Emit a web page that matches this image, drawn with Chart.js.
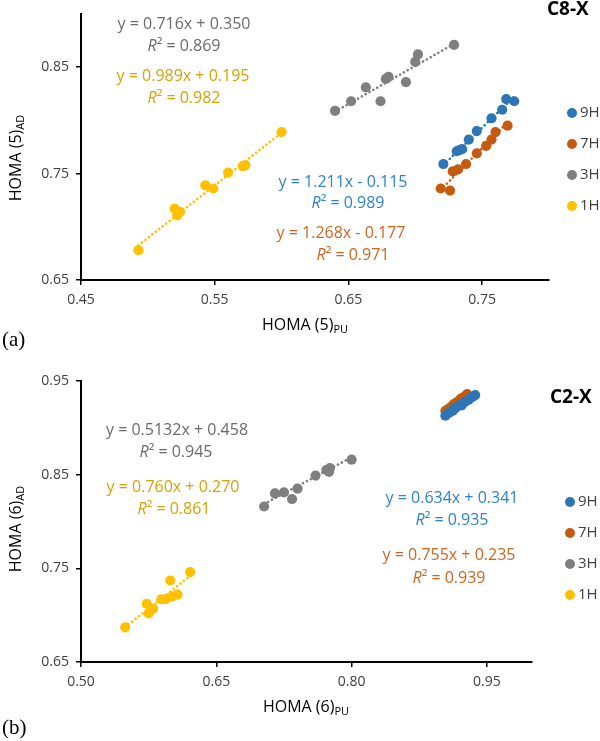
<!DOCTYPE html>
<html>
<head>
<meta charset="utf-8">
<script src="https://cdn.jsdelivr.net/npm/chart.js@4/dist/chart.umd.min.js"></script>
<style>
body{margin:0;background:#fff;}
canvas{display:block;}
</style>
</head>
<body>
<canvas id="chartA" width="600" height="350"></canvas>
<canvas id="chartB" width="600" height="391"></canvas>
<script>
var seriesNames = ['9H', '7H', '3H', '1H'];

// (a) C8-X
var a9H_x = [0.721, 0.731, 0.733, 0.735, 0.740, 0.746, 0.757, 0.765, 0.768, 0.774];
var a9H_y = [0.759, 0.771, 0.772, 0.773, 0.782, 0.790, 0.802, 0.810, 0.820, 0.818];
var a7H_x = [0.719, 0.726, 0.728, 0.732, 0.738, 0.746, 0.753, 0.757, 0.760, 0.769];
var a7H_y = [0.736, 0.734, 0.752, 0.754, 0.759, 0.769, 0.776, 0.782, 0.789, 0.795];
var a3H_x = [0.640, 0.652, 0.663, 0.674, 0.678, 0.680, 0.693, 0.700, 0.702, 0.729];
var a3H_y = [0.809, 0.818, 0.831, 0.818, 0.839, 0.841, 0.836, 0.855, 0.862, 0.871];
var a1H_x = [0.493, 0.520, 0.522, 0.524, 0.543, 0.549, 0.560, 0.571, 0.573, 0.600];
var a1H_y = [0.678, 0.717, 0.711, 0.714, 0.739, 0.736, 0.751, 0.757, 0.758, 0.789];
var aSlope = [1.211, 1.268, 0.716, 0.989];
var aIntercept = [-0.115, -0.177, 0.350, 0.195];
var aEq = ['y = 1.211x - 0.115', 'y = 1.268x - 0.177', 'y = 0.716x + 0.350', 'y = 0.989x + 0.195'];
var aR2 = ['0.989', '0.971', '0.869', '0.982'];
var aXTicks = [0.45, 0.55, 0.65, 0.75];
var aYTicks = [0.65, 0.75, 0.85];

// (b) C2-X
var b9H_x = [0.904, 0.908, 0.912, 0.915, 0.919, 0.922, 0.926, 0.930, 0.934, 0.937];
var b9H_y = [0.913, 0.916, 0.918, 0.921, 0.924, 0.924, 0.928, 0.930, 0.933, 0.935];
var b7H_x = [0.904, 0.907, 0.910, 0.913, 0.916, 0.918, 0.921, 0.923, 0.926, 0.928];
var b7H_y = [0.918, 0.920, 0.922, 0.925, 0.927, 0.928, 0.931, 0.932, 0.934, 0.936];
var b3H_x = [0.703, 0.715, 0.725, 0.734, 0.740, 0.760, 0.772, 0.775, 0.776, 0.800];
var b3H_y = [0.816, 0.830, 0.831, 0.824, 0.835, 0.849, 0.855, 0.853, 0.857, 0.866];
var b1H_x = [0.549, 0.573, 0.575, 0.580, 0.589, 0.594, 0.599, 0.601, 0.607, 0.621];
var b1H_y = [0.687, 0.712, 0.702, 0.707, 0.717, 0.717, 0.737, 0.720, 0.722, 0.746];
var bSlope = [0.634, 0.755, 0.5132, 0.760];
var bIntercept = [0.341, 0.235, 0.458, 0.270];
var bEq = ['y = 0.634x + 0.341', 'y = 0.755x + 0.235', 'y = 0.5132x + 0.458', 'y = 0.760x + 0.270'];
var bR2 = ['0.935', '0.939', '0.945', '0.861'];
var bXTicks = [0.50, 0.65, 0.80, 0.95];
var bYTicks = [0.65, 0.75, 0.85, 0.95];

var markerColors = ['#2E75B6', '#C55A11', '#7F7F7F', '#FFC000'];
var textColors = ['#2F82CF', '#CF6420', '#6B6B6B', '#D7A300'];
var FONT = '"Open Sans", "DejaVu Sans", sans-serif';

function pts(xs, ys) {
  return xs.map(function(x, i) { return { x: x, y: ys[i] }; });
}

function buildDatasets(xsList, ysList, slopes, intercepts) {
  var sets = [];
  xsList.forEach(function(xs, i) {
    sets.push({
      type: 'scatter',
      label: seriesNames[i],
      data: pts(xs, ysList[i]),
      backgroundColor: markerColors[i],
      borderWidth: 0,
      pointRadius: 5.1,
      order: i
    });
  });
  xsList.forEach(function(xs, i) {
    var lo = Math.min.apply(null, xs), hi = Math.max.apply(null, xs);
    sets.push({
      type: 'line',
      label: seriesNames[i] + ' trend',
      data: [{ x: lo, y: slopes[i] * lo + intercepts[i] }, { x: hi, y: slopes[i] * hi + intercepts[i] }],
      borderColor: markerColors[i],
      borderWidth: 2.6,
      borderDash: [0.1, 4.3],
      borderCapStyle: 'round',
      pointRadius: 0,
      fill: false,
      order: 10 + i
    });
  });
  return sets;
}

function richText(ctx, cx, cy, parts, color) {
  var w = 0;
  parts.forEach(function(p) { ctx.font = p.font; w += ctx.measureText(p.t).width; });
  var x = cx - w / 2;
  ctx.fillStyle = color;
  ctx.textAlign = 'left';
  ctx.textBaseline = 'middle';
  parts.forEach(function(p) {
    ctx.font = p.font;
    ctx.fillText(p.t, x, cy + (p.dy || 0));
    x += ctx.measureText(p.t).width;
  });
}

function decorPlugin(cfg) {
  return {
    id: 'decor',
    afterDraw: function(chart) {
      var ctx = chart.ctx;
      ctx.save();
      // trendline equations
      cfg.eq.forEach(function(eq, i) {
        var p = cfg.eqPos[i];
        richText(ctx, p[0], p[1], [{ t: eq, font: '16px ' + FONT }], textColors[i]);
        richText(ctx, p[2], p[3], [
          { t: 'R', font: 'italic 16px ' + FONT },
          { t: '\u00B2', font: '16px ' + FONT },
          { t: ' = ' + cfg.r2[i], font: '16px ' + FONT }
        ], textColors[i]);
      });
      // legend
      seriesNames.forEach(function(name, i) {
        var ly = cfg.legendY + i * 31;
        ctx.fillStyle = markerColors[i];
        ctx.beginPath();
        ctx.arc(cfg.legendX, ly, 5, 0, Math.PI * 2);
        ctx.fill();
        ctx.fillStyle = '#404040';
        ctx.font = '15px ' + FONT;
        ctx.textAlign = 'left';
        ctx.textBaseline = 'middle';
        ctx.fillText(name, cfg.legendX + 8, ly);
      });
      // title
      ctx.fillStyle = '#000';
      ctx.font = 'bold 19px ' + FONT;
      ctx.textAlign = 'left';
      ctx.textBaseline = 'middle';
      ctx.fillText(cfg.title, cfg.titlePos[0], cfg.titlePos[1]);
      // axis titles
      richText(ctx, cfg.xTitlePos[0], cfg.xTitlePos[1], [
        { t: cfg.axisName, font: '16px ' + FONT },
        { t: 'PU', font: '11px ' + FONT, dy: 5 }
      ], '#000');
      ctx.save();
      ctx.translate(cfg.yTitlePos[0], cfg.yTitlePos[1]);
      ctx.rotate(-Math.PI / 2);
      richText(ctx, 0, 0, [
        { t: cfg.axisName, font: '16px ' + FONT },
        { t: 'AD', font: '11px ' + FONT, dy: 5 }
      ], '#000');
      ctx.restore();
      // panel letter
      ctx.fillStyle = '#000';
      ctx.font = '21px "Liberation Serif", "DejaVu Serif", serif';
      ctx.textAlign = 'left';
      ctx.textBaseline = 'middle';
      ctx.fillText(cfg.panel, 2, cfg.panelY);
      ctx.restore();
    }
  };
}

function axis(min, max, ticks, isX, fitSize) {
  return {
    type: 'linear',
    min: min,
    max: max,
    afterBuildTicks: function(scale) {
      scale.ticks = ticks.map(function(v) { return { value: v }; });
    },
    afterFit: function(scale) {
      if (isX) scale.height = fitSize; else scale.width = fitSize;
    },
    grid: { display: true, drawOnChartArea: false, drawTicks: true, tickLength: 5, color: '#000', lineWidth: 1.5 },
    border: { display: true, color: '#000', width: 2 },
    ticks: {
      color: '#404040',
      font: { family: FONT, size: 14, lineHeight: 1 },
      padding: isX ? 8 : 7,
      callback: function(v) { return Number(v).toFixed(2); }
    },
    title: { display: false }
  };
}

function makeChart(id, datasets, scales, padding, cfg) {
  return new Chart(document.getElementById(id), {
    data: { datasets: datasets },
    options: {
      responsive: false,
      animation: false,
      layout: { padding: padding },
      plugins: { legend: { display: false }, tooltip: { enabled: false } },
      scales: scales
    },
    plugins: [decorPlugin(cfg)]
  });
}

makeChart('chartA',
  buildDatasets([a9H_x, a7H_x, a3H_x, a1H_x], [a9H_y, a7H_y, a3H_y, a1H_y], aSlope, aIntercept),
  { x: axis(0.45, 0.80, aXTicks, true, 70), y: axis(0.65, 0.90, aYTicks, false, 81) },
  { top: 8, right: 51, left: 0, bottom: 0 },
  {
    eq: aEq, r2: aR2,
    eqPos: [[343, 182, 348, 203], [341, 233, 353, 255], [184, 24, 184, 46], [183, 76, 184, 98]],
    legendX: 572, legendY: 113,
    title: 'C8-X', titlePos: [547, 10],
    axisName: 'HOMA (5)', xTitlePos: [305, 325], yTitlePos: [16, 158],
    panel: '(a)', panelY: 340
  });

makeChart('chartB',
  buildDatasets([b9H_x, b7H_x, b3H_x, b1H_x], [b9H_y, b7H_y, b3H_y, b1H_y], bSlope, bIntercept),
  { x: axis(0.50, 1.00, bXTicks, true, 79), y: axis(0.65, 0.95, bYTicks, false, 81) },
  { top: 31, right: 68, left: 0, bottom: 0 },
  {
    eq: bEq, r2: bR2,
    eqPos: [[452, 148, 452, 170], [449, 205, 449, 228], [177, 80, 176, 102], [173, 137, 174, 159]],
    legendX: 570, legendY: 152,
    title: 'C2-X', titlePos: [550, 48],
    axisName: 'HOMA (6)', xTitlePos: [306, 357], yTitlePos: [16, 179],
    panel: '(b)', panelY: 378
  });
</script>
</body>
</html>
